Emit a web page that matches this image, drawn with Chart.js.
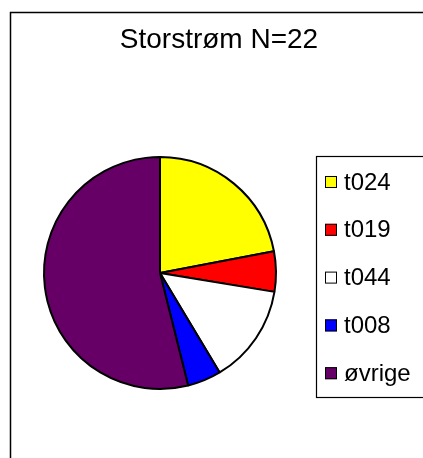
<!DOCTYPE html>
<html>
<head>
<meta charset="utf-8">
<script src="https://cdn.jsdelivr.net/npm/chart.js@4.4.1/dist/chart.umd.min.js"></script>
<style>
  html, body { margin: 0; padding: 0; background: #fff; }
  canvas { display: block; }
</style>
</head>
<body>
<canvas id="myChart" width="423" height="458"></canvas>
<script>
const titleText = "Storstrøm N=22";
const labels = ["t024", "t019", "t044", "t008", "øvrige"];
const shares = [22, 5.6, 13.8, 4.7, 53.9];
const colors = ["#ffff00", "#ff0000", "#ffffff", "#0000ff", "#660066"];

const ctx = document.getElementById("myChart").getContext("2d");

// frame, title and legend drawn like the old Excel chart
const excelDecor = {
  id: "excelDecor",
  beforeDraw: function (chart) {
    const c = chart.ctx;
    c.save();
    c.strokeStyle = "#000";
    c.lineWidth = 1.5;
    c.strokeRect(10.5, 12.5, 440, 470);
    c.restore();
  },
  afterDraw: function (chart) {
    const c = chart.ctx;
    c.save();
    c.fillStyle = "#000";
    c.font = "28px 'Liberation Sans', Arial, sans-serif";
    c.textAlign = "center";
    c.textBaseline = "middle";
    c.fillText(titleText, 219, 40);

    // legend box
    c.strokeStyle = "#000";
    c.lineWidth = 1.2;
    c.strokeRect(316.5, 156.5, 140, 241);

    const ds = chart.data.datasets[0];
    c.lineWidth = 1;
    c.font = "24px 'Liberation Sans', Arial, sans-serif";
    c.textAlign = "left";
    chart.data.labels.forEach(function (lab, i) {
      const y = 182 + i * 47.8;
      c.fillStyle = ds.backgroundColor[i];
      c.fillRect(325, y - 6, 12, 12);
      c.strokeRect(325.5, y - 5.5, 11, 11);
      c.fillStyle = "#000";
      c.fillText(lab, 344, y + 1);
    });
    c.restore();
  },
};

const myChart = new Chart(ctx, {
  type: "pie",
  data: {
    labels: labels,
    datasets: [
      {
        data: shares,
        backgroundColor: colors,
        borderColor: "#000",
        borderWidth: 2,
      },
    ],
  },
  options: {
    responsive: false,
    animation: false,
    layout: {
      padding: { left: 43, right: 146, top: 156, bottom: 68 },
    },
    plugins: {
      legend: { display: false },
      title: { display: false },
      tooltip: { enabled: false },
    },
  },
  plugins: [excelDecor],
});
</script>
</body>
</html>
